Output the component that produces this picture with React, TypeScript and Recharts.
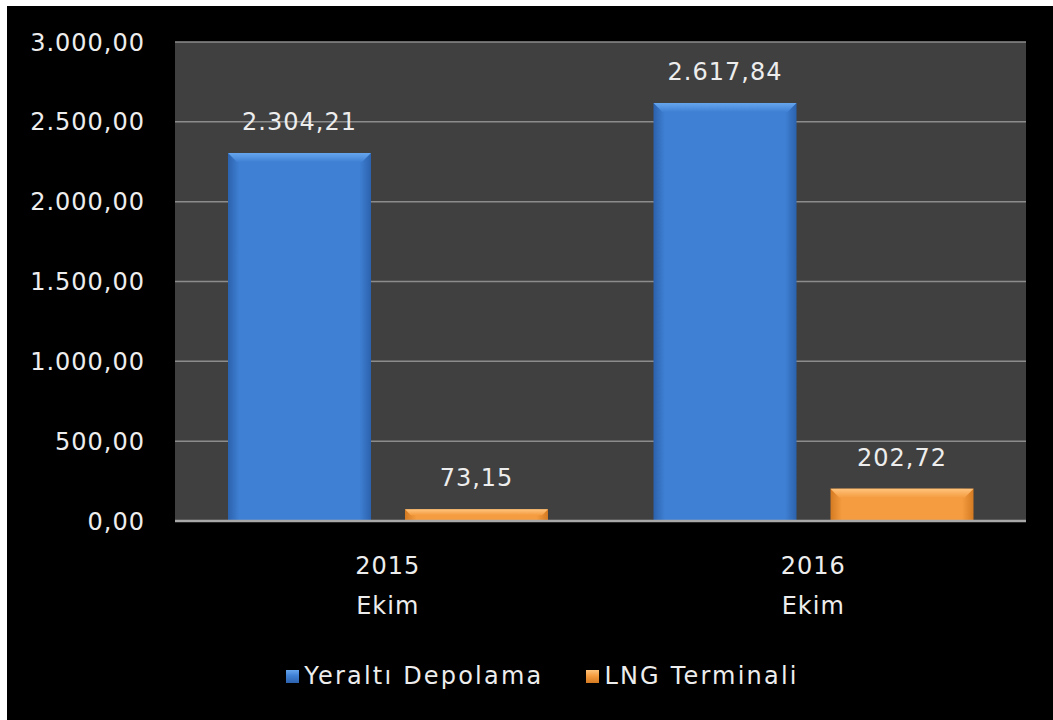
import React from "react";
import {
  BarChart,
  Bar,
  XAxis,
  YAxis,
  CartesianGrid,
  Legend,
  LabelList,
} from "recharts";

const years = ["2015", "2016"];
const months = ["Ekim", "Ekim"];
const yeraltiDepolama = [2304.21, 2617.84];
const lngTerminali = [73.15, 202.72];
const yTicks = [0, 500, 1000, 1500, 2000, 2500, 3000];

const data = years.map((year, i) => ({
  name: year,
  month: months[i],
  yeralti: yeraltiDepolama[i],
  lng: lngTerminali[i],
}));

const FONT = "'DejaVu Sans', Verdana, sans-serif";
const TEXT = "#ededed";

// Turkish number format: 2.304,21
function formatTr(v: number) {
  const [intPart, dec] = v.toFixed(2).split(".");
  return intPart.replace(/\B(?=(\d{3})+(?!\d))/g, ".") + "," + dec;
}

const PALETTE = {
  yeralti: { edge: "#2c62ad", body: "#3f80d4", bevel: "#66a6ee" },
  lng: { edge: "#d47a22", body: "#f59c40", bevel: "#ffc47c" },
};

function makeShape(key: "yeralti" | "lng") {
  return (props: any) => {
    const { x, y, width, height } = props;
    if (!height || height <= 0) return null;
    const b = Math.min(9, height / 2);
    return (
      <g>
        <rect x={x} y={y} width={width} height={height} fill={`url(#body-${key})`} />
        <polygon
          points={`${x},${y} ${x + width},${y} ${x + width - b},${y + b} ${x + b},${y + b}`}
          fill={`url(#bevel-${key})`}
        />
      </g>
    );
  };
}

function XTick(props: any) {
  const { x, y, payload, index } = props;
  return (
    <g>
      <text x={x} y={y + 53} textAnchor="middle" fill={TEXT} fontSize={24} fontFamily={FONT} letterSpacing={1}>
        {payload.value}
      </text>
      <text x={x} y={y + 93} textAnchor="middle" fill={TEXT} fontSize={24} fontFamily={FONT} letterSpacing={1}>
        {months[index] ?? ""}
      </text>
    </g>
  );
}

function LegendContent() {
  const items = [
    { name: "Yeraltı Depolama", key: "yeralti" as const },
    { name: "LNG Terminali", key: "lng" as const },
  ];
  return (
    <div
      style={{
        display: "flex",
        justifyContent: "center",
        alignItems: "center",
        gap: 43,
        paddingLeft: 52,
        fontFamily: FONT,
        fontSize: 24,
        color: TEXT,
      }}
    >
      {items.map((it) => (
        <div key={it.key} style={{ display: "flex", alignItems: "center" }}>
          <span
            style={{
              display: "inline-block",
              width: 13,
              height: 13,
              marginRight: 5,
              background: `linear-gradient(180deg, ${PALETTE[it.key].bevel} 0%, ${PALETTE[it.key].body} 45%, ${PALETTE[it.key].edge} 100%)`,
            }}
          />
          <span style={{ letterSpacing: 2.2 }}>{it.name}</span>
        </div>
      ))}
    </div>
  );
}

export default function App() {
  return (
    <div
      style={{
        position: "absolute",
        left: 7,
        top: 6,
        width: 1046,
        height: 714,
        background: "#000",
      }}
    >
      <BarChart
        width={1046}
        height={714}
        data={data}
        margin={{ top: 36, right: 27, bottom: 20, left: 0 }}
        barSize={143}
        barGap={34}
      >
        <defs>
          {(["yeralti", "lng"] as const).map((k) => (
            <linearGradient key={k} id={`body-${k}`} x1="0" y1="0" x2="1" y2="0">
              <stop offset="0%" stopColor={PALETTE[k].edge} />
              <stop offset="8%" stopColor={PALETTE[k].body} />
              <stop offset="92%" stopColor={PALETTE[k].body} />
              <stop offset="100%" stopColor={PALETTE[k].edge} />
            </linearGradient>
          ))}
          {(["yeralti", "lng"] as const).map((k) => (
            <linearGradient key={k} id={`bevel-${k}`} x1="0" y1="0" x2="0" y2="1">
              <stop offset="0%" stopColor={PALETTE[k].bevel} />
              <stop offset="100%" stopColor={PALETTE[k].body} />
            </linearGradient>
          ))}
        </defs>
        <CartesianGrid
          vertical={false}
          fill="#404040"
          stroke="#8c8c8c"
          strokeWidth={1.5}
        />
        <XAxis
          dataKey="name"
          height={139}
          tickSize={0}
          tickMargin={0}
          axisLine={{ stroke: "#a8a8a8", strokeWidth: 2.5 }}
          tickLine={false}
          tick={<XTick />}
          interval={0}
        />
        <YAxis
          width={168}
          domain={[0, 3000]}
          ticks={yTicks}
          tickFormatter={(v: number) => formatTr(v)}
          tickSize={0}
          tickMargin={30}
          axisLine={false}
          tickLine={false}
          tick={{ fill: TEXT, fontSize: 24, fontFamily: FONT, letterSpacing: 1 }}
        />
        <Legend
          height={40}
          verticalAlign="bottom"
          wrapperStyle={{ bottom: 18 }}
          content={<LegendContent />}
        />
        <Bar
          dataKey="yeralti"
          name="Yeraltı Depolama"
          fill={PALETTE.yeralti.body}
          shape={makeShape("yeralti")}
          isAnimationActive={false}
        >
          <LabelList
            dataKey="yeralti"
            position="top"
            offset={23}
            formatter={(v: any) => formatTr(Number(v))}
            fill={TEXT}
            fontSize={24}
            fontFamily={FONT}
            letterSpacing={1}
          />
        </Bar>
        <Bar
          dataKey="lng"
          name="LNG Terminali"
          fill={PALETTE.lng.body}
          shape={makeShape("lng")}
          isAnimationActive={false}
        >
          <LabelList
            dataKey="lng"
            position="top"
            offset={23}
            formatter={(v: any) => formatTr(Number(v))}
            fill={TEXT}
            fontSize={24}
            fontFamily={FONT}
            letterSpacing={1}
          />
        </Bar>
      </BarChart>
    </div>
  );
}
